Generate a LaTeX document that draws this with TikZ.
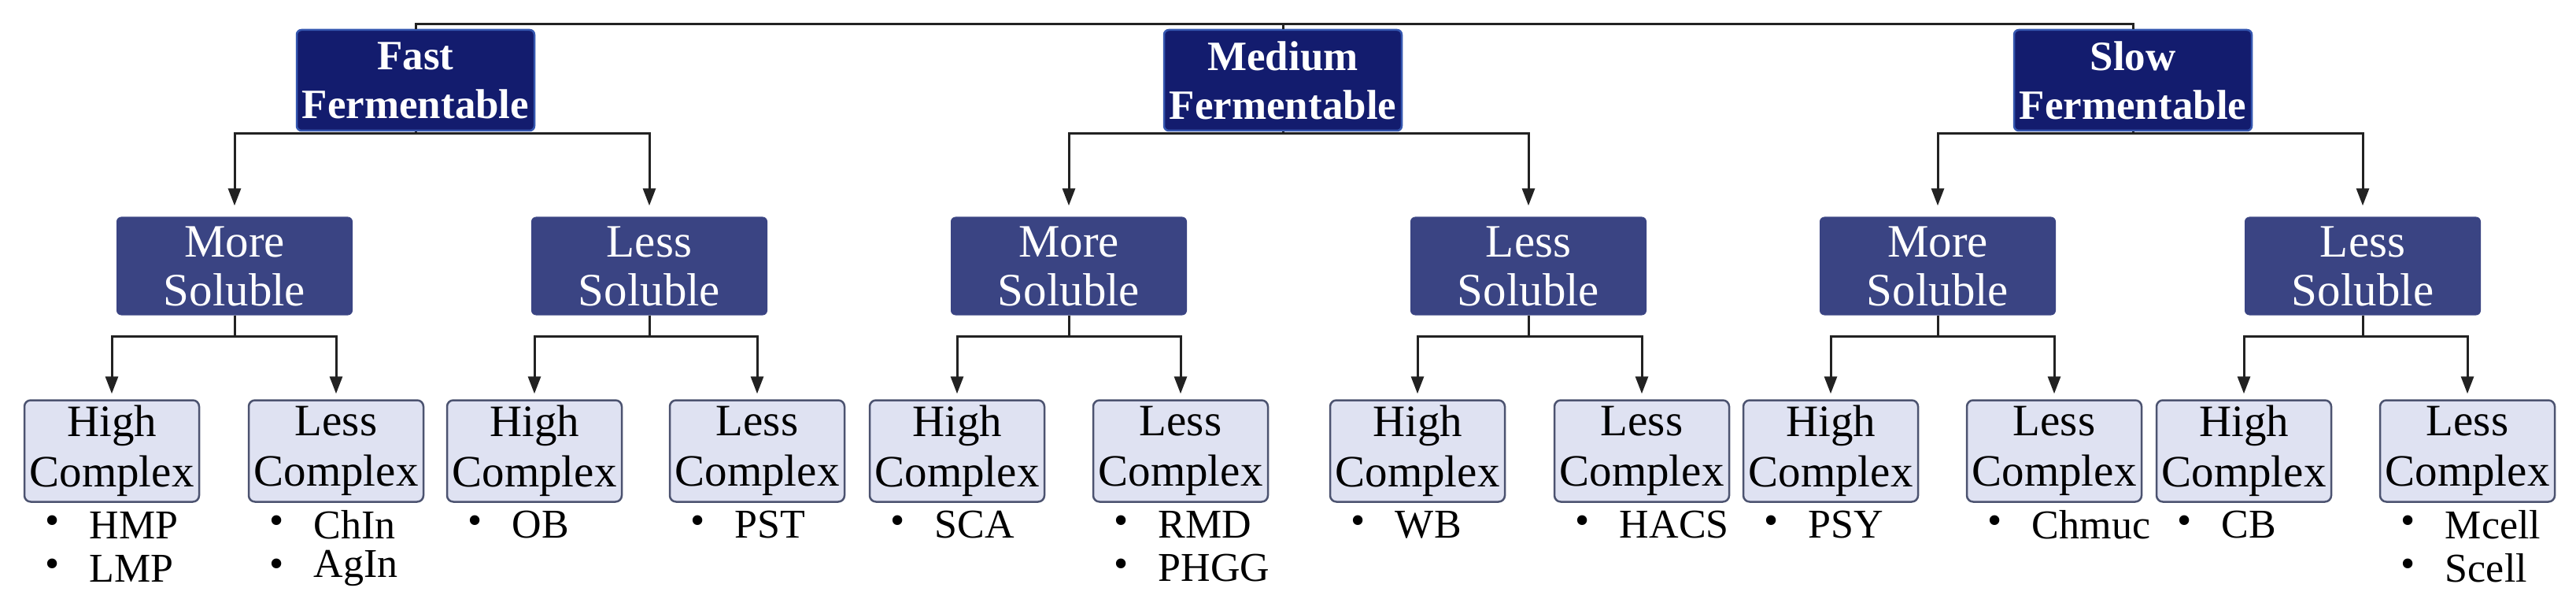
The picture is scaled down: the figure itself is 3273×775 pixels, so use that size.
\documentclass[tikz,border=0pt]{standalone}
\usepackage{fontspec}
\setmainfont{Liberation Serif}
\usetikzlibrary{arrows.meta}
\definecolor{topc}{HTML}{131C6E}
\definecolor{topb}{HTML}{3557B0}
\definecolor{midc}{HTML}{3A4483}
\definecolor{leafc}{HTML}{DFE2F2}
\definecolor{leafb}{HTML}{4C5370}
\definecolor{linec}{HTML}{222222}
\begin{document}
\begin{tikzpicture}[x=1pt,y=-1pt,
  topbox/.style={draw=topb,line width=2.5pt,fill=topc,rounded corners=6pt,minimum width=302pt,minimum height=128pt,inner sep=0pt,text=white,align=center,font=\fontsize{53}{62}\selectfont\bfseries},
  midbox/.style={fill=midc,rounded corners=6pt,minimum width=300pt,minimum height=125pt,inner sep=0pt,text=white,align=center,font=\fontsize{59}{62}\selectfont},
  leaf/.style={draw=leafb,line width=2.5pt,fill=leafc,rounded corners=8pt,minimum width=222pt,minimum height=129pt,inner sep=0pt,align=center,font=\fontsize{57}{64}\selectfont},
  item/.style={anchor=west,inner sep=0pt,font=\fontsize{52}{54}\selectfont},
  ln/.style={draw=linec,line width=3pt},
  arr/.style={ln,-{Triangle[length=22pt,width=16pt]}}
]
\useasboundingbox (0,0) rectangle (3273,775);
% top
\node[topbox] (F) at (528,102) {Fast\\Fermentable};
\node[topbox] (M) at (1630,102) {Medium\\Fermentable};
\node[topbox] (S) at (2710,102) {Slow\\Fermentable};
% mid
\node[midbox] (F1) at (298,338) {More\\Soluble};
\node[midbox] (F2) at (825,338) {Less\\Soluble};
\node[midbox] (M1) at (1358,338) {More\\Soluble};
\node[midbox] (M2) at (1942,338) {Less\\Soluble};
\node[midbox] (S1) at (2462,338) {More\\Soluble};
\node[midbox] (S2) at (3002,338) {Less\\Soluble};
% leaves
\node[leaf] (L1) at (142,573) {High\\Complex};
\node[leaf] (L2) at (427,573) {Less\\Complex};
\node[leaf] (L3) at (679,573) {High\\Complex};
\node[leaf] (L4) at (962,573) {Less\\Complex};
\node[leaf] (L5) at (1216,573) {High\\Complex};
\node[leaf] (L6) at (1500,573) {Less\\Complex};
\node[leaf] (L7) at (1801,573) {High\\Complex};
\node[leaf] (L8) at (2086,573) {Less\\Complex};
\node[leaf] (L9) at (2326,573) {High\\Complex};
\node[leaf] (L10) at (2610,573) {Less\\Complex};
\node[leaf] (L11) at (2851,573) {High\\Complex};
\node[leaf] (L12) at (3135,573) {Less\\Complex};
% top connector
\draw[ln] (F.north) -- (F.north |- 0,31) -- (S.north |- 0,31) -- (S.north);
\draw[ln] (M.north) -- (M.north |- 0,31);
% branches
\foreach \p/\a/\b in {F/F1/F2,M/M1/M2,S/S1/S2}{
  \draw[arr,shorten >=14pt] (\p.south) -- (\p.south |- 0,170) -| (\a.north);
  \draw[arr,shorten >=14pt] (\p.south) -- (\p.south |- 0,170) -| (\b.north);
}
\foreach \p/\a/\b in {F1/L1/L2,F2/L3/L4,M1/L5/L6,M2/L7/L8,S1/L9/L10,S2/L11/L12}{
  \draw[arr,shorten >=7pt] (\p.south) -- (\p.south |- 0,427) -| (\a.north);
  \draw[arr,shorten >=7pt] (\p.south) -- (\p.south |- 0,427) -| (\b.north);
}
% items
\foreach \l/\t/\r [count=\i] in {L1/HMP/0,L1/LMP/1,L2/ChIn/0,L2/AgIn/1,L3/OB/0,L4/PST/0,L5/SCA/0,L6/RMD/0,L6/PHGG/1,L7/WB/0,L8/HACS/0,L9/PSY/0,L10/Chmuc/0,L11/CB/0,L12/Mcell/0,L12/Scell/1}{
  \path (\l.west) ++(28pt,{94+\r*55}) node[item] (b\i) {•};
  \path (\l.west) ++(84pt,{94+\r*55}) node[item] (t\i) {\t};
}
\end{tikzpicture}
\end{document}
